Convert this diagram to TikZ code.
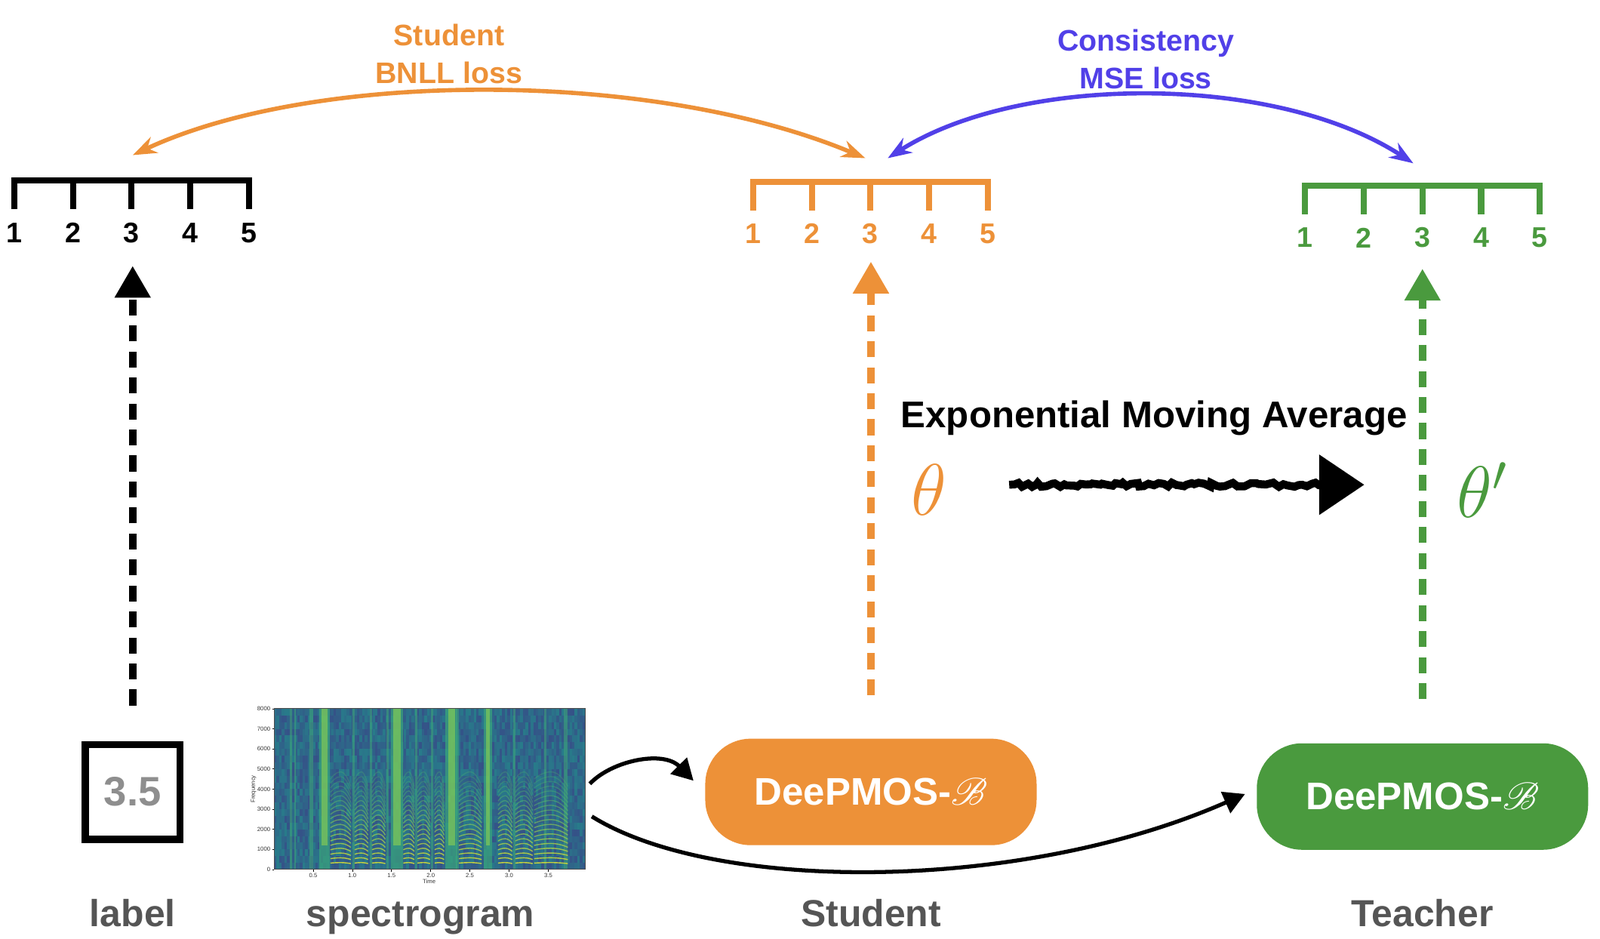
\RequirePackage{fix-cm}
\documentclass[tikz,border=0pt]{standalone}
\usepackage{fontspec}
\setmainfont{Liberation Sans}
\usepackage{mathrsfs}
\usetikzlibrary{arrows.meta,decorations.pathmorphing,calc}

\definecolor{dporange}{RGB}{237,145,56}
\definecolor{dpgreen}{RGB}{74,154,62}
\definecolor{dpblue}{RGB}{81,64,232}
\definecolor{dpgray}{RGB}{85,85,85}
\definecolor{dplight}{RGB}{142,142,142}
\definecolor{vdark}{RGB}{55,75,135}
\definecolor{vblue}{RGB}{44,113,142}
\definecolor{vteal}{RGB}{33,145,140}
\definecolor{vgreen}{RGB}{94,201,98}
\definecolor{vyellow}{RGB}{253,231,37}

\tikzset{
  scaleline/.style={line width=2.3pt},
  scalenum/.style={font=\fontsize{10.7}{12}\selectfont\bfseries, inner sep=0pt},
  dasharrow/.style={line width=2.7pt, dash pattern=on 6pt off 3.8pt, -{Triangle[length=12pt,width=13pt]}},
  lossarc/.style={line width=1.6pt, {Stealth[length=9pt,width=6.5pt]}-{Stealth[length=9pt,width=6.5pt]}},
  model/.style={rounded corners=0.6cm, minimum width=4.39cm, minimum height=1.41cm, text=white, font=\fontsize{14.5}{16}\selectfont\bfseries},
  caption/.style={text=dpgray, anchor=base, font=\fontsize{14.2}{16}\selectfont\bfseries},
  feed/.style={line width=1.5pt, -{Triangle[length=8pt,width=8.5pt]}},
  param/.style={font=\fontsize{27.5}{33}\selectfont},
  tick/.style={font=\fontsize{2.2}{2.5}\selectfont, inner sep=0.6pt, text=black!80}
}

% name, x, y, colour
\newcommand\ratingscale[4]{%
  \draw[scaleline, #4] (#2,#3+28) -- (#2,#3) -- (#2+230,#3) -- (#2+230,#3+28);
  \foreach \k in {1,...,5} {
    \draw[scaleline, #4] (#2+57.5*\k-57.5,#3) -- ++(0,28);
    \node[scalenum, text=#4] (#1\k) at (#2+57.5*\k-57.5,#3+51) {\k};
  }
  \coordinate (#1top) at (#2+115,#3);
}

\begin{document}
\begin{tikzpicture}[x=0.01352cm, y=-0.01352cm]
	\useasboundingbox (0,0) rectangle (1568,920);

	% rating scales
	\ratingscale{lab}{14}{177}{black}
	\ratingscale{stu}{738}{178}{dporange}
	\ratingscale{tea}{1279}{182}{dpgreen}

	% losses
	\draw[lossarc, dporange] ($(stutop)+(-5,-23)$) .. controls (640,68) and (310,68) .. ($(labtop)+(1,-25)$);
	\node[text=dporange, align=center, font=\fontsize{11.2}{14.2}\selectfont\bfseries] (bnll) at (440,53) {Student\\BNLL loss};
	\draw[lossarc, dpblue] ($(stutop)+(17,-23)$) .. controls (1000,72) and (1250,72) .. ($(teatop)+(-9,-22)$);
	\node[text=dpblue, align=center, font=\fontsize{11.2}{14.2}\selectfont\bfseries] (mse) at (1123,58) {Consistency\\MSE loss};

	% bottom row
	\node[draw, line width=2.7pt, minimum size=1.257cm, text=dplight, font=\fontsize{15.5}{17}\selectfont\bfseries] (label) at (130,776) {3.5};
	\node[model, fill=dporange] (student) at (853.5,776) {DeePMOS-$\mathscr{B}$};
	\node[model, fill=dpgreen] (teacher) at (1394,780.5) {DeePMOS-$\mathscr{B}$};

	\node[caption] at (130,908) {label};
	\node[caption] at (412,908) {spectrogram};
	\node[caption] at (853.5,908) {Student};
	\node[caption] at (1394,908) {Teacher};

	% predictions
	\draw[dasharrow, shorten <=0.47cm, shorten >=0.3cm] (label.north) -- (label.north |- lab3.south);
	\draw[dasharrow, dporange, shorten <=0.57cm, shorten >=0.23cm] (student.north) -- (student.north |- stu3.south);
	\draw[dasharrow, dpgreen, shorten <=0.58cm, shorten >=0.27cm] (teacher.north) -- (teacher.north |- tea3.south);

	% EMA
	\node[font=\fontsize{14}{16}\selectfont\bfseries] (ema) at (1131,410) {Exponential Moving Average};
	\node[param, text=dporange] (theta) at (910,480) {$\theta$};
	\node[param, text=dpgreen] (thetap) at (1453,480) {$\theta'$};
	\coordinate (emaL) at (989,475);
	\coordinate (emaR) at (1337,475);
	\draw[line width=3pt, decorate, decoration={random steps, segment length=1.6pt, amplitude=0.8pt, post length=10pt}, -{Triangle[length=17pt,width=22pt]}] (emaL) -- (emaR);

	% spectrogram
	\begin{scope}[shift={(268.5,852)}, xscale=76.8, yscale=-19.69]
		\pgfmathsetseed{3}
		\foreach \ii in {0,...,119} {
			\foreach \jj in {0,...,23} {
				\pgfmathtruncatemacro\rr{10+60*rnd}
				\fill[vteal!\rr!vdark] (\ii*0.03308,\jj*0.3333) rectangle ++(0.034,0.34);
			}
		}
		\foreach \ts/\ws in {0.2/0.03,0.26/0.02,0.45/0.05,1.0/0.03,1.22/0.03,1.43/0.03,1.8/0.03,2.0/0.03,2.32/0.04,3.05/0.03,3.45/0.03,3.7/0.05} {
			\fill[vteal!50!vgreen, opacity=0.5] (\ts,0) rectangle ++(\ws,8);
		}
		\foreach \ts/\ws in {0.58/0.13,1.49/0.16,2.19/0.15,2.68/0.1} {
			\fill[vgreen!40!vteal, opacity=0.7] (\ts,0) rectangle ++(\ws,8);
			\fill[vgreen!70!vyellow, opacity=0.6] (\ts+0.03,1.2) rectangle ++(\ws-0.06,6.8);
		}
		\foreach \sa/\sb in {0.72/0.98,1.03/1.2,1.25/1.42,1.65/1.79,1.83/1.99,2.05/2.17,2.36/2.65,2.86/3.04,3.08/3.3,3.32/3.75} {
			\foreach \hh in {1,...,20} {
				\pgfmathsetmacro\fq{0.22*\hh+0.1}
				\pgfmathtruncatemacro\cc{max(0,95-6*\hh)}
				\pgfmathsetmacro\op{max(0.25,1-0.04*\hh)}
				\draw[line width=0.4pt, opacity=\op, vyellow!\cc!vgreen!85!vteal] (\sa,\fq) parabola bend ({(\sa+\sb)/2},{\fq*1.08}) (\sb,{\fq*0.92});
			}
		}
		\draw[line width=0.3pt, black!70] (0,0) rectangle (3.97,8);
		\foreach \fk in {0,...,8} {
			\draw[line width=0.2pt] (0,\fk) -- (-0.02,\fk);
			\node[tick, anchor=east] at (-0.02,\fk) {\pgfmathtruncatemacro\lbl{1000*\fk}\lbl};
		}
		\foreach \tk in {0.5,1.0,1.5,2.0,2.5,3.0,3.5} {
			\draw[line width=0.2pt] (\tk,0) -- (\tk,-0.1);
			\node[tick, anchor=north] at (\tk,-0.1) {\tk};
		}
		\node[tick, anchor=north] at (1.98,-0.38) {Time};
		\node[tick, rotate=90, anchor=south] at (-0.2,4) {Frequency};
	\end{scope}

	% inputs
	\coordinate (specA) at (578,768);
	\coordinate (specB) at (580,800);
	\draw[feed] (specA) .. controls (600,745) and (650,735) .. ($(student.west)+(-11,-11)$);
	\draw[feed] (specB) .. controls (700,875) and (1000,875) .. ($(teacher.west)+(-11,-2.5)$);
\end{tikzpicture}
\end{document}
